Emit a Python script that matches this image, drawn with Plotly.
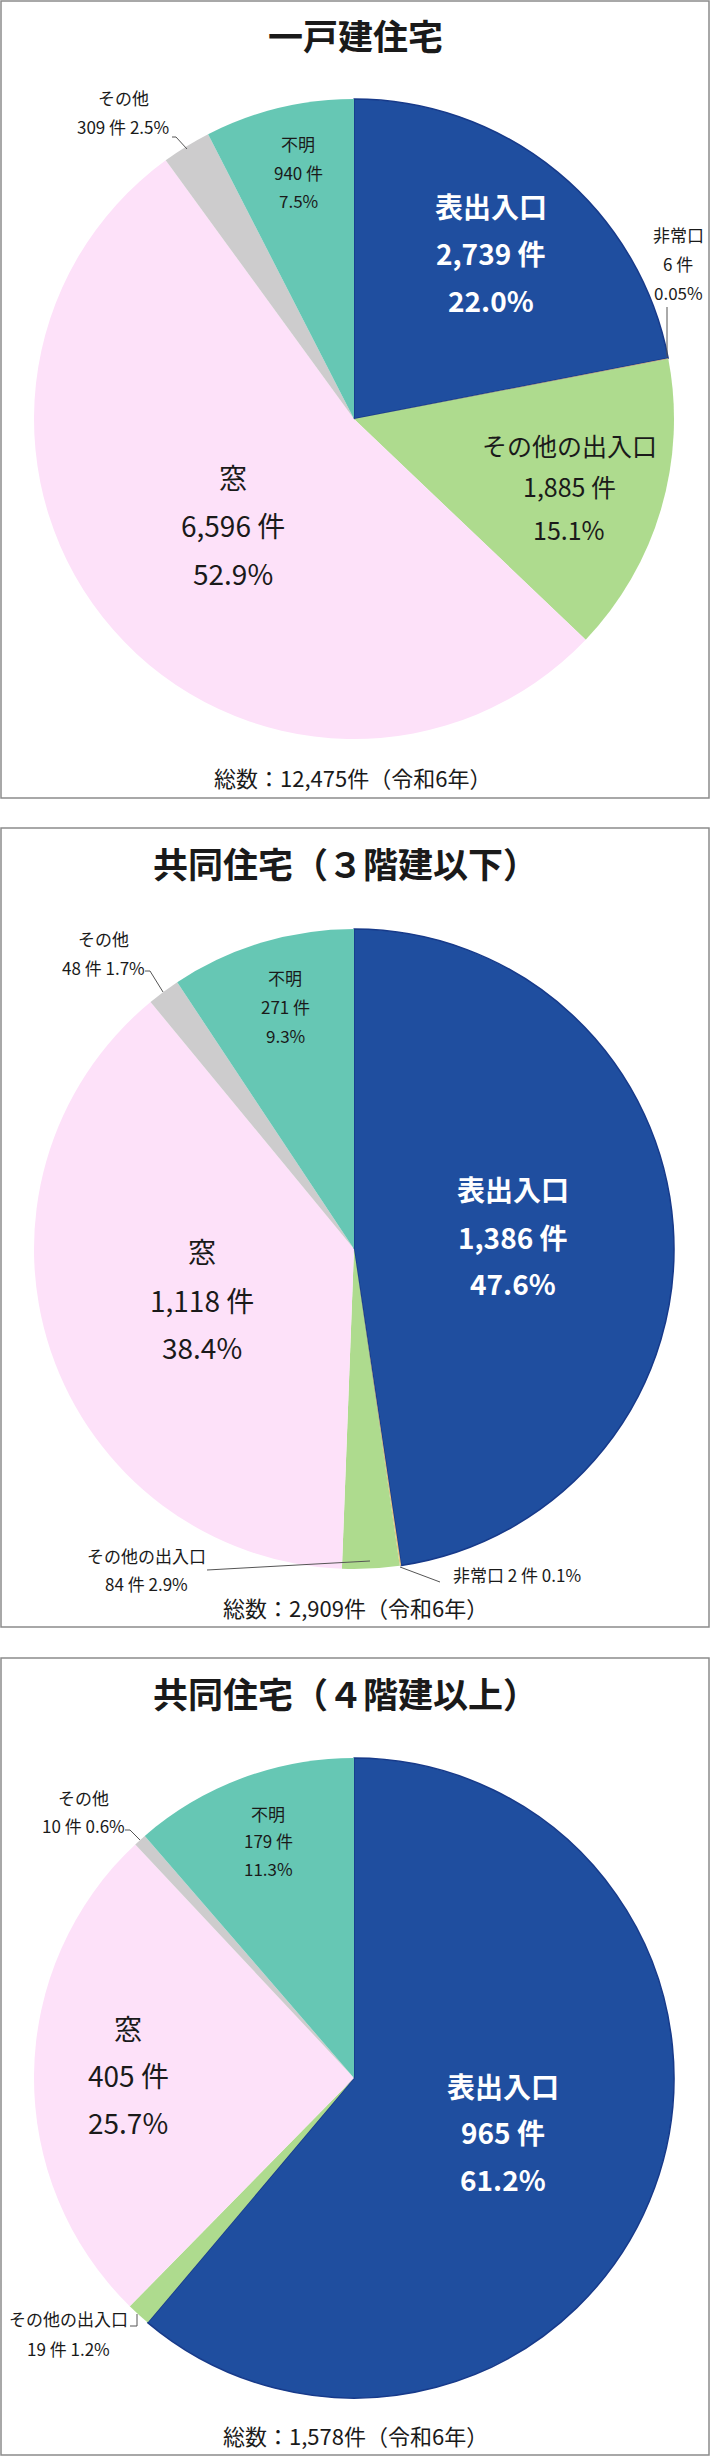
import plotly.graph_objects as go

# ---------------- data ----------------
categories = ["表出入口", "非常口", "その他の出入口", "窓", "その他", "不明"]
colors = ["#1F4E9F", "#E9C27E", "#AEDB8E", "#FDE1F9", "#CDCCCD", "#66C7B4"]

titles = ["一戸建住宅", "共同住宅（３階建以下）", "共同住宅（４階建以上）"]
counts_1 = [2739, 6, 1885, 6596, 309, 940]
pct_1 = ["22.0%", "0.05%", "15.1%", "52.9%", "2.5%", "7.5%"]
counts_2 = [1386, 2, 84, 1118, 48, 271]
pct_2 = ["47.6%", "0.1%", "2.9%", "38.4%", "1.7%", "9.3%"]
counts_3 = [965, 0, 19, 405, 10, 179]
pct_3 = ["61.2%", "0.0%", "1.2%", "25.7%", "0.6%", "11.3%"]
year_label = "令和6年"

# ---------------- layout helpers (pixel coordinates) ----------------
W, H = 710, 2457
FONT = "Noto Sans CJK JP"
TXT = "#1a1a1a"
SMALL = 17
BIG = 28

fig = go.Figure()

def px_x(x):
    return x / W

def px_y(y):
    return 1 - y / H

annotations = []
shapes = []

def text(x, y, s, size, color=TXT, bold=False):
    annotations.append(dict(
        x=x, y=y, xref="x", yref="y", text=s, showarrow=False,
        xanchor="center", yanchor="middle",
        font=dict(family=FONT, size=size, color=color, weight=700 if bold else 400),
    ))

def lines(x, ys, strs, size, color=TXT, bold=False):
    for y, s in zip(ys, strs):
        text(x, y, s, size, color, bold)

def path(pts, color="#555555", width=1):
    d = "M " + " L ".join(f"{a},{b}" for a, b in pts)
    shapes.append(dict(type="path", path=d, xref="x", yref="y",
                       line=dict(color=color, width=width)))

def border(y0, y1):
    shapes.append(dict(type="rect", x0=1, x1=709, y0=y0, y1=y1, xref="x", yref="y",
                       line=dict(color="#8c8c8c", width=1.5), fillcolor="rgba(0,0,0,0)"))

R = 320
CX = 354

def add_pie(vals, cy):
    fig.add_trace(go.Pie(
        labels=categories, values=vals, sort=False, direction="clockwise",
        rotation=0, textinfo="none", hoverinfo="label+value+percent",
        marker=dict(colors=colors,
                    line=dict(color=["#173A8A", "rgba(0,0,0,0)", "rgba(0,0,0,0)",
                                     "rgba(0,0,0,0)", "rgba(0,0,0,0)", "rgba(0,0,0,0)"],
                              width=[1.5, 0, 0, 0, 0, 0])),
        domain=dict(x=[px_x(CX - R), px_x(CX + R)], y=[px_y(cy + R), px_y(cy - R)]),
        showlegend=False,
    ))

def cnt(c):
    return f"{c:,} 件"

def total_text(vals):
    return f"総数：{sum(vals):,}件（{year_label}）"

# ---------------- panel 1 ----------------
border(1, 798)
add_pie(counts_1, 419)
text(355, 34, titles[0], 35, bold=True)
lines(491, [206, 253, 300], [categories[0], cnt(counts_1[0]), pct_1[0]], BIG, "white", True)
lines(678, [234, 263, 292], [categories[1], cnt(counts_1[1]), pct_1[1]], SMALL)
lines(569, [445, 486, 529], [categories[2], cnt(counts_1[2]), pct_1[2]], 25)
lines(233, [477, 525, 573], [categories[3], cnt(counts_1[3]), pct_1[3]], BIG)
lines(123, [97, 126], [categories[4], f"{cnt(counts_1[4])} {pct_1[4]}"], SMALL)
lines(298, [143, 172, 200], [categories[5], cnt(counts_1[5]), pct_1[5]], SMALL)
text(352, 777, total_text(counts_1), 22)
path([(667, 307), (667, 357)])
path([(172, 137), (176, 137), (187, 149)])

# ---------------- panel 2 ----------------
border(828, 1627)
add_pie(counts_2, 1249)
text(345, 862, titles[1], 35, bold=True)
lines(513, [1189, 1237, 1283], [categories[0], cnt(counts_2[0]), pct_2[0]], BIG, "white", True)
lines(202, [1251, 1300, 1347], [categories[3], cnt(counts_2[3]), pct_2[3]], BIG)
lines(285, [977, 1006, 1035], [categories[5], cnt(counts_2[5]), pct_2[5]], SMALL)
lines(103, [938, 967], [categories[4], f"{cnt(counts_2[4])} {pct_2[4]}"], SMALL)
lines(146, [1555, 1583], [categories[2], f"{cnt(counts_2[2])} {pct_2[2]}"], SMALL)
text(517, 1574, f"{categories[1]} {cnt(counts_2[1])} {pct_2[1]}", SMALL)
text(355, 1607, total_text(counts_2), 22)
path([(145, 971), (150, 971), (163, 992)])
path([(207, 1570), (370, 1561)])
path([(400, 1567), (440, 1582)])

# ---------------- panel 3 ----------------
border(1658, 2455)
add_pie(counts_3, 2078)
text(345, 1692, titles[2], 35, bold=True)
lines(503, [2086, 2132, 2179], [categories[0], cnt(counts_3[0]), pct_3[0]], BIG, "white", True)
lines(128, [2028, 2075, 2122], [categories[3], cnt(counts_3[3]), pct_3[3]], BIG)
lines(268, [1813, 1840, 1868], [categories[5], cnt(counts_3[5]), pct_3[5]], SMALL)
lines(83, [1797, 1825], [categories[4], f"{cnt(counts_3[4])} {pct_3[4]}"], SMALL)
lines(68, [2318, 2348], [categories[2], f"{cnt(counts_3[2])} {pct_3[2]}"], SMALL)
text(355, 2435, total_text(counts_3), 22)
path([(125, 1830), (130, 1830), (140, 1840)])
path([(130, 2326), (137, 2326), (137, 2314)])

fig.update_layout(
    width=W, height=H, margin=dict(l=0, r=0, t=0, b=0),
    paper_bgcolor="white", plot_bgcolor="rgba(0,0,0,0)",
    xaxis=dict(range=[0, W], visible=False, domain=[0, 1], fixedrange=True),
    yaxis=dict(range=[H, 0], visible=False, domain=[0, 1], fixedrange=True),
    annotations=annotations, shapes=shapes,
    font=dict(family=FONT),
)

fig.write_html(
    "out.html",
    config={"displayModeBar": False},
    post_script="document.body.style.margin='0';document.body.style.overflow='hidden';",
)
